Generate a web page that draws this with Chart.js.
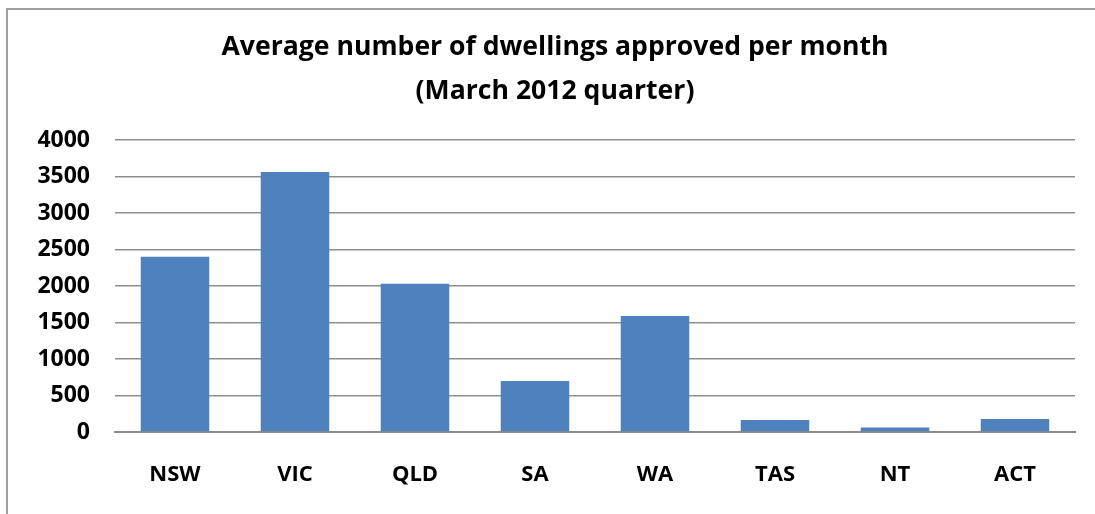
<!DOCTYPE html>
<html>
<head>
<meta charset="utf-8">
<script src="https://cdn.jsdelivr.net/npm/chart.js@4/dist/chart.umd.min.js"></script>
<style>
	html, body { margin: 0; padding: 0; background: #fff; overflow: hidden; }
	#wrap { position: relative; width: 1095px; height: 514px; }
	#frame { position: absolute; left: 6px; top: 8px; width: 1200px; height: 600px; border: 2px solid #a0a0a0; box-sizing: border-box; }
	#myChart { position: absolute; left: 0; top: 0; }
</style>
</head>
<body>
<div id="wrap">
	<div id="frame"></div>
	<canvas id="myChart" width="1095" height="514"></canvas>
</div>

<script>
	// states / territories
	var states = ['NSW', 'VIC', 'QLD', 'SA', 'WA', 'TAS', 'NT', 'ACT'];
	// average dwellings approved per month, March 2012 quarter
	var dwellings = [2400, 3560, 2030, 700, 1590, 165, 60, 178];
	var titleLines = ['Average number of dwellings approved per month', '(March 2012 quarter)'];

	var fontFamily = "'Open Sans', Lato, sans-serif";

	var ctx = document.getElementById('myChart').getContext('2d');
	var myChart = new Chart(ctx, {
		type: 'bar',
		data: {
			labels: states,
			datasets: [{
				data: dwellings,
				backgroundColor: '#4f81bd',
				borderWidth: 0,
				barPercentage: 0.571,
				categoryPercentage: 1
			}]
		},
		options: {
			responsive: false,
			animation: false,
			// left padding pushes the title centre to the right, like the original
			layout: { padding: { left: 35, right: 20, top: 0, bottom: 0 } },
			plugins: {
				legend: { display: false },
				tooltip: { enabled: false },
				title: {
					display: true,
					text: titleLines,
					color: '#000',
					font: { family: fontFamily, size: 26.6, weight: 'bold', lineHeight: 1.654 },
					padding: { top: 25, bottom: 27 }
				}
			},
			scales: {
				x: {
					grid: { display: false, drawTicks: false },
					border: { display: true, color: '#8a8a8a', width: 2 },
					ticks: {
						color: '#000',
						font: { family: fontFamily, size: 22, weight: 'bold' },
						padding: 30
					},
					afterFit: function(scale) { scale.height = 82; }
				},
				y: {
					min: 0,
					max: 4000,
					grid: { color: '#8f8f8f', lineWidth: 1.5, drawTicks: false },
					border: { display: false },
					ticks: {
						stepSize: 500,
						color: '#000',
						font: { family: fontFamily, size: 23, weight: 'bold' },
						padding: 25,
						callback: function(value) { return String(value); }
					},
					afterFit: function(scale) { scale.width = 80; }
				}
			}
		}
	});
</script>
</body>
</html>
